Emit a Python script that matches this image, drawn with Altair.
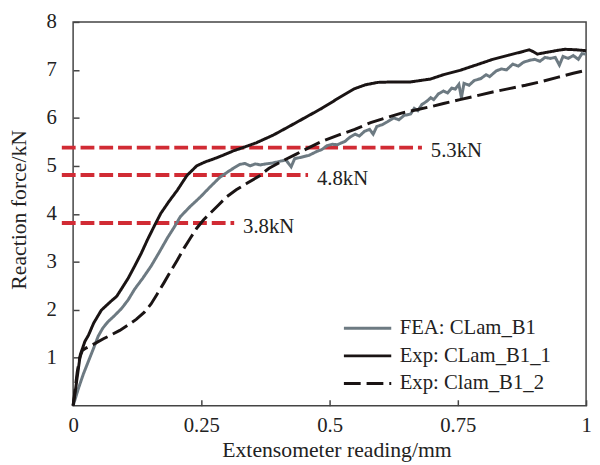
import altair as alt
import pandas as pd

FONT = "Liberation Serif"

# FEA: CLam_B1 (grey, noisy)
fea_x = [0, 0.011, 0.02, 0.03, 0.04, 0.049, 0.058, 0.068, 0.08, 0.094, 0.107, 0.12, 0.136, 0.152, 0.168,
         0.184, 0.197, 0.209, 0.228, 0.248, 0.267, 0.286, 0.305, 0.325, 0.335, 0.345, 0.355, 0.365, 0.375,
         0.39, 0.405, 0.415, 0.425, 0.432, 0.445, 0.46, 0.475, 0.485, 0.495, 0.505, 0.515, 0.53, 0.54, 0.55,
         0.558, 0.568, 0.578, 0.585, 0.592, 0.603, 0.613, 0.625, 0.635, 0.645, 0.658, 0.665, 0.672, 0.68,
         0.69, 0.697, 0.703, 0.712, 0.722, 0.73, 0.738, 0.745, 0.752, 0.757, 0.762, 0.772, 0.782, 0.795,
         0.805, 0.812, 0.825, 0.835, 0.845, 0.857, 0.868, 0.878, 0.89, 0.9, 0.91, 0.92, 0.93, 0.94, 0.948,
         0.955, 0.965, 0.975, 0.985, 0.992, 1.0]
fea_y = [0, 0.38, 0.66, 0.93, 1.2, 1.45, 1.62, 1.75, 1.87, 2.02, 2.2, 2.43, 2.66, 2.91, 3.2,
         3.5, 3.72, 3.94, 4.15, 4.35, 4.56, 4.76, 4.9, 5.03, 5.05, 5.0, 5.04, 5.02, 5.04,
         5.06, 5.1, 5.12, 4.98, 5.15, 5.18, 5.22, 5.3, 5.34, 5.42, 5.45, 5.44, 5.51, 5.6, 5.66,
         5.62, 5.72, 5.76, 5.66, 5.82, 5.86, 5.92, 6.0, 5.96, 6.05, 6.08, 6.2, 6.15, 6.28,
         6.35, 6.42, 6.38, 6.5, 6.56, 6.52, 6.62, 6.6, 6.7, 6.42, 6.72, 6.68, 6.78, 6.82,
         6.9, 6.86, 6.98, 7.02, 7.0, 7.12, 7.08, 7.16, 7.2, 7.22, 7.18, 7.26, 7.24, 7.26, 7.1,
         7.28, 7.24, 7.3, 7.22, 7.34, 7.33]

# Exp: CLam_B1_1 (solid black)
exp1_x = [0, 0.004, 0.007, 0.014, 0.023, 0.030, 0.040, 0.055, 0.072, 0.085, 0.094, 0.107, 0.120, 0.133,
          0.145, 0.158, 0.171, 0.187, 0.203, 0.222, 0.241, 0.257, 0.273, 0.292, 0.312, 0.331, 0.357, 0.39,
          0.421, 0.453, 0.485, 0.517, 0.549, 0.570, 0.594, 0.625, 0.658, 0.697, 0.722, 0.754, 0.785, 0.818,
          0.85, 0.876, 0.889, 0.897, 0.905, 0.92, 0.946, 0.959, 0.98, 1.0]
exp1_y = [0, 0.28, 0.52, 1.06, 1.34, 1.47, 1.72, 1.99, 2.16, 2.28, 2.43, 2.65, 2.91, 3.18,
          3.46, 3.74, 4.01, 4.26, 4.49, 4.80, 5.0, 5.08, 5.14, 5.22, 5.31, 5.38, 5.48, 5.64,
          5.82, 6.01, 6.2, 6.41, 6.61, 6.69, 6.74, 6.75, 6.75, 6.81, 6.90, 6.99, 7.1, 7.22,
          7.31, 7.38, 7.42, 7.38, 7.33, 7.36, 7.41, 7.43, 7.42, 7.40]

# Exp: Clam_B1_2 (dashed black)
exp2_x = [0, 0.004, 0.008, 0.013, 0.018, 0.025, 0.043, 0.06, 0.075, 0.091, 0.107, 0.123, 0.139, 0.152,
          0.164, 0.177, 0.19, 0.203, 0.216, 0.229, 0.241, 0.254, 0.267, 0.283, 0.299, 0.318, 0.338, 0.363,
          0.382, 0.408, 0.434, 0.46, 0.485, 0.517, 0.549, 0.58, 0.61, 0.64, 0.67, 0.70, 0.722, 0.754,
          0.786, 0.818, 0.85, 0.882, 0.914, 0.946, 0.975, 1.0]
exp2_y = [0, 0.35, 0.7, 1.0, 1.15, 1.2, 1.3, 1.4, 1.48, 1.57, 1.68, 1.8, 1.95, 2.12,
          2.33, 2.56, 2.8, 3.03, 3.28, 3.5, 3.7, 3.87, 4.01, 4.18, 4.35, 4.5, 4.63, 4.79,
          4.95, 5.1, 5.24, 5.38, 5.51, 5.64, 5.76, 5.9, 6.0, 6.1, 6.17, 6.24, 6.3, 6.38,
          6.46, 6.54, 6.61, 6.68, 6.76, 6.85, 6.93, 6.99]

series_names = ["FEA: CLam_B1", "Exp: CLam_B1_1", "Exp: Clam_B1_2"]
series_colors = ["#6d7a82", "#1a1414", "#1a1414"]
series_dash = [[1, 0], [1, 0], [17, 6]]

# Reference force levels (red dashed lines)
ref_levels = [5.38, 4.81, 3.81]
ref_start = [-0.022, -0.022, -0.022]
ref_end = [0.68, 0.458, 0.314]
ref_labels = ["5.3kN", "4.8kN", "3.8kN"]

x_ticks = [0, 0.25, 0.5, 0.75, 1]
y_ticks = [1, 2, 3, 4, 5, 6, 7, 8]

frames = []
for name, xs, ys in zip(series_names, [fea_x, exp1_x, exp2_x], [fea_y, exp1_y, exp2_y]):
    frames.append(pd.DataFrame({"x": xs, "y": ys, "series": name, "order": range(len(xs))}))
curves = pd.concat(frames, ignore_index=True)

refs = pd.DataFrame({"level": ref_levels, "x0": ref_start, "x1": ref_end, "label": ref_labels})

x_scale = alt.Scale(domain=[0, 1], nice=False, zero=False)
y_scale = alt.Scale(domain=[0, 8], nice=False)

x_axis = alt.Axis(values=x_ticks, format=".2~f", title="Extensometer reading/mm", grid=False,
                  domain=False, offset=-6, tickSize=6, tickWidth=1.5, tickColor="#444",
                  labelPadding=9, labelFont=FONT, labelFontSize=21, labelColor="#222",
                  titleFont=FONT, titleFontSize=22, titleFontWeight="normal", titleColor="#222",
                  titlePadding=5, titleX=267, labelFlush=False)
y_axis = alt.Axis(values=y_ticks, title="Reaction force/kN", grid=False,
                  domain=False, offset=-6, tickSize=6, tickWidth=1.5, tickColor="#444",
                  labelPadding=17, labelFont=FONT, labelFontSize=21, labelColor="#222",
                  titleFont=FONT, titleFontSize=22, titleFontWeight="normal", titleColor="#222",
                  titlePadding=16, titleY=190, labelFlush=False)

legend = alt.Legend(title=None, orient="none", legendX=285, legendY=297, padding=0,
                    symbolType="M-2,0H2", symbolSize=576, symbolStrokeWidth=3,
                    labelFont=FONT, labelFontSize=21, labelColor="#222", labelOffset=19,
                    rowPadding=4, labelLimit=300)

lines = alt.Chart(curves).mark_line(strokeWidth=3, clip=False).encode(
    x=alt.X("x:Q", scale=x_scale, axis=x_axis),
    y=alt.Y("y:Q", scale=y_scale, axis=y_axis),
    color=alt.Color("series:N", scale=alt.Scale(domain=series_names, range=series_colors), legend=legend),
    strokeDash=alt.StrokeDash("series:N", scale=alt.Scale(domain=series_names, range=series_dash), legend=legend),
    order="order:Q",
)

rules = alt.Chart(refs).mark_rule(color="#d12b34", strokeWidth=4, strokeDash=[14, 5]).encode(
    x="x0:Q", x2="x1:Q", y="level:Q"
)

labels = alt.Chart(refs).mark_text(align="left", baseline="middle", dx=9, dy=4,
                                   font=FONT, fontSize=21, color="#222").encode(
    x="x1:Q", y="level:Q", text="label:N"
)

chart = alt.layer(rules, lines, labels).properties(
    width=520, height=389,
    padding={"left": 66, "top": 11, "right": 6, "bottom": 57},
    autosize=alt.AutoSizeParams(type="none"),
).configure_view(stroke="#444", strokeWidth=1.5)

chart.save("out.html", embed_options={"renderer": "svg", "actions": False})
